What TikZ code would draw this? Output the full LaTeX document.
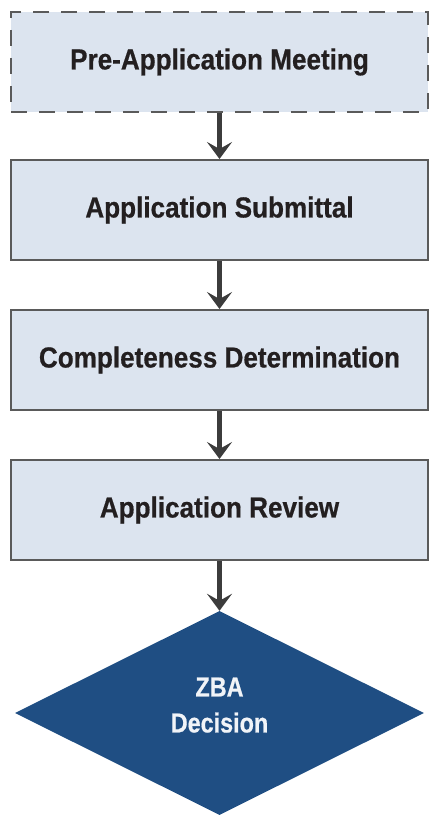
\documentclass[tikz,border=0pt]{standalone}
\usepackage{fontspec}
\newfontfamily\flowfont[FakeStretch=0.90,BoldFeatures={FakeBold=0.6}]{Liberation Sans}
\newfontfamily\zbafont[FakeStretch=0.85,BoldFeatures={FakeBold=0.6}]{Liberation Sans}
\usepackage{tikz}
\usetikzlibrary{
  arrows.meta,
  positioning,
  shapes.geometric
}

\definecolor{boxfill}{HTML}{DCE4EF}
\definecolor{boxline}{HTML}{5A5A5A}
\definecolor{zbablue}{HTML}{1F4E83}
\definecolor{flowtext}{HTML}{231F20}
\definecolor{arrowgray}{HTML}{3C3C3C}

\tikzset{
  stagebox/.style={draw=boxline, line width=2pt, fill=boxfill, rectangle,
    minimum width=417pt, minimum height=100pt, inner sep=0pt,
    font=\flowfont\bfseries\fontsize{29}{34}\selectfont, text=flowtext},
  optbox/.style={stagebox, dash pattern=on 16pt off 12pt, line width=2.5pt},
  decisionbox/.style={diamond, fill=zbablue, minimum width=409pt,
    minimum height=204pt, inner sep=0pt, align=center, text depth=16pt,
    font=\zbafont\bfseries\fontsize{27.5}{36}\selectfont, text=white!94!zbablue},
  flowarrow/.style={draw=arrowgray, line width=5pt,
    -{Stealth[length=17pt,width=25pt,inset=7pt]}}
}

\begin{document}
\begin{tikzpicture}[x=1pt,y=1pt]
  \useasboundingbox (0,0) rectangle (440,828);
  \node[optbox]      (premeet)  at (219.5,766) {Pre-Application Meeting};
  \node[stagebox]    (submit)   at (219.5,618) {Application Submittal};
  \node[stagebox]    (complete) at (219.5,468) {Completeness Determination};
  \node[stagebox]    (review)   at (219.5,318) {Application Review};
  \node[decisionbox] (zba)      at (219.5,115) {ZBA\\Decision};
  \draw[flowarrow] (premeet)  -- (submit);
  \draw[flowarrow] (submit)   -- (complete);
  \draw[flowarrow] (complete) -- (review);
  \draw[flowarrow] (review)   -- (zba);
\end{tikzpicture}
\end{document}
